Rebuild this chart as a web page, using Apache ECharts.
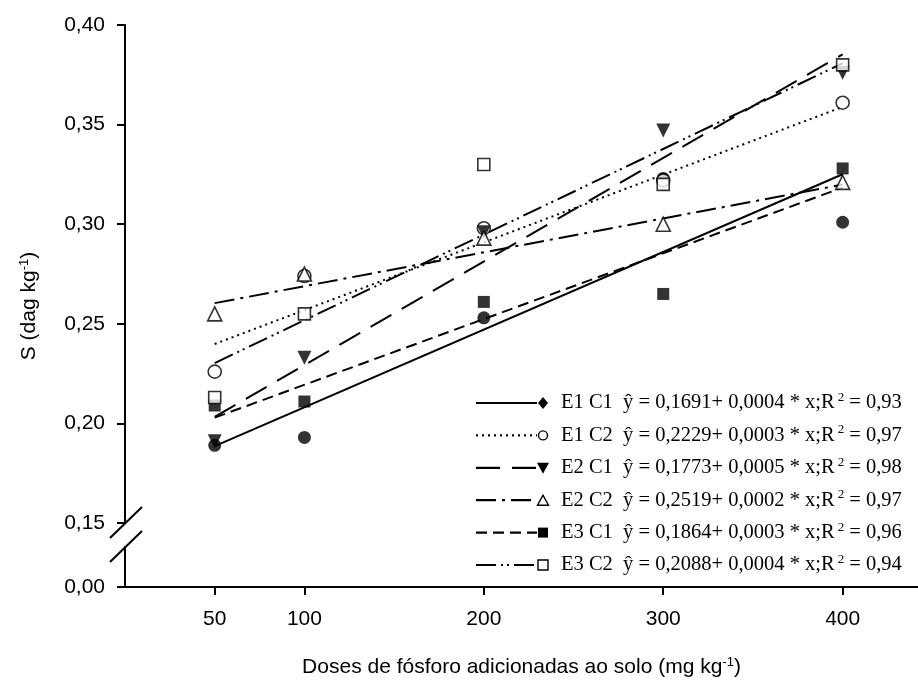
<!DOCTYPE html>
<html>
<head>
<meta charset="utf-8">
<script src="https://cdn.jsdelivr.net/npm/echarts@6/dist/echarts.min.js"></script>
<style>
  html, body { margin: 0; padding: 0; background: #ffffff; }
  #chart { width: 918px; height: 684px; }
</style>
</head>
<body>
<div id="chart"></div>
<script>
// Phosphorus doses (mg kg-1) and tick labels
const doses = [50, 100, 200, 300, 400];
const xTicks = [50, 100, 200, 300, 400];
const yTicks = [0.00, 0.15, 0.20, 0.25, 0.30, 0.35, 0.40];

// Measured S (dag kg-1) for each treatment
const seriesNames = ['E1 C1', 'E1 C2', 'E2 C1', 'E2 C2', 'E3 C1', 'E3 C2'];
const e1c1 = [0.189, 0.193, 0.253, 0.323, 0.301];
const e1c2 = [0.226, 0.274, 0.298, 0.322, 0.361];
const e2c1 = [0.191, 0.233, 0.296, 0.347, 0.376];
const e2c2 = [0.255, 0.275, 0.293, 0.300, 0.321];
const e3c1 = [0.209, 0.211, 0.261, 0.265, 0.328];
const e3c2 = [0.213, 0.255, 0.330, 0.320, 0.380];

// Fitted regression lines: value at the first and last dose
const fitDoses = [50, 400];
const fitE1C1 = [0.1886, 0.3251];
const fitE1C2 = [0.2399, 0.3589];
const fitE2C1 = [0.2033, 0.3853];
const fitE2C2 = [0.2604, 0.3199];
const fitE3C1 = [0.2029, 0.3184];
const fitE3C2 = [0.2303, 0.3808];

// Regression equations shown in the key
const intercepts = ['0,1691', '0,2229', '0,1773', '0,2519', '0,1864', '0,2088'];
const slopes = ['0,0004', '0,0003', '0,0005', '0,0002', '0,0003', '0,0004'];
const r2 = ['0,93', '0,97', '0,98', '0,97', '0,96', '0,94'];

// Broken y axis: the stretch from 0.00 to 0.15 is squeezed into a short gap
const breakLow = 0.00, breakHigh = 0.15, breakSpan = 0.0321;
function toAxis(v) {
  return v >= breakHigh ? v : breakHigh - breakSpan * (breakHigh - v) / (breakHigh - breakLow);
}
function fromAxis(a) {
  return a >= breakHigh - 1e-9 ? a : breakLow + (a - (breakHigh - breakSpan)) / breakSpan * (breakHigh - breakLow);
}
const fmt = v => v.toFixed(2).replace('.', ',');

const SANS = '"Liberation Sans", Arial, sans-serif';
const SERIF = '"Liberation Serif", "Times New Roman", serif';

const values = [e1c1, e1c2, e2c1, e2c2, e3c1, e3c2];
const fits = [fitE1C1, fitE1C2, fitE2C1, fitE2C2, fitE3C1, fitE3C2];

// Drawing style per treatment
const styles = [
  { dash: 'solid',             symbol: 'circle',   rotate: 0,   filled: true,  size: 13, keyShape: 'diamond' },
  { dash: [2, 4],              symbol: 'circle',   rotate: 0,   filled: false, size: 13, keyShape: 'circle' },
  { dash: [24, 12],            symbol: 'triangle', rotate: 180, filled: true,  size: 14, keyShape: 'down' },
  { dash: [20, 6, 3, 6],       symbol: 'triangle', rotate: 0,   filled: false, size: 14, keyShape: 'up' },
  { dash: [11, 6],             symbol: 'rect',     rotate: 0,   filled: true,  size: 12, keyShape: 'square' },
  { dash: [20, 5, 2, 4, 2, 5], symbol: 'rect',     rotate: 0,   filled: false, size: 12, keyShape: 'square' }
];

const lineSeries = fits.map((f, i) => ({
  name: seriesNames[i] + ' fit',
  type: 'line',
  data: fitDoses.map((d, k) => [d, toAxis(f[k])]),
  showSymbol: false,
  symbol: 'none',
  lineStyle: { color: '#000', width: 2, type: styles[i].dash, cap: 'butt' },
  z: 2,
  silent: true
}));

const pointSeries = values.map((vals, i) => ({
  name: seriesNames[i],
  type: 'scatter',
  data: doses.map((d, k) => [d, toAxis(vals[k])]),
  symbol: styles[i].symbol,
  symbolSize: styles[i].size,
  symbolRotate: styles[i].rotate,
  itemStyle: styles[i].filled
    ? { color: '#000', borderColor: '#000', borderWidth: 0 }
    : { color: '#fff', borderColor: '#000', borderWidth: 1.6 },
  z: 3 + i
}));

const chart = echarts.init(document.getElementById('chart'), null, { renderer: 'canvas' });

chart.setOption({
  animation: false,
  backgroundColor: '#ffffff',
  grid: { left: 125, right: 0, top: 25, bottom: 97, containLabel: false },
  xAxis: {
    type: 'value',
    min: 0,
    max: 442,
    name: 'Doses de fósforo adicionadas ao solo (mg kg{sup|-1})',
    nameLocation: 'middle',
    nameGap: 69,
    nameTextStyle: {
      color: '#000', fontFamily: SANS, fontSize: 21,
      rich: { sup: { fontSize: 13, fontFamily: SANS, color: '#000', verticalAlign: 'top', padding: [0, 0, 10, 0] } }
    },
    axisLine: { lineStyle: { color: '#000', width: 2 } },
    axisTick: { show: true, inside: false, length: 8, lineStyle: { color: '#000', width: 2 }, customValues: xTicks },
    axisLabel: { color: '#000', fontFamily: SANS, fontSize: 21, margin: 22, customValues: xTicks },
    splitLine: { show: false }
  },
  yAxis: {
    type: 'value',
    min: toAxis(yTicks[0]),
    max: yTicks[yTicks.length - 1],
    name: 'S (dag kg{sup|-1})',
    nameLocation: 'middle',
    nameRotate: 90,
    nameGap: 84,
    nameTextStyle: {
      color: '#000', fontFamily: SANS, fontSize: 21,
      rich: { sup: { fontSize: 13, fontFamily: SANS, color: '#000', verticalAlign: 'top', padding: [0, 0, 10, 0] } }
    },
    axisLine: { show: true, lineStyle: { color: '#000', width: 2 } },
    axisTick: { show: true, inside: false, length: 8, lineStyle: { color: '#000', width: 2 }, customValues: yTicks.map(toAxis) },
    axisLabel: {
      color: '#000', fontFamily: SANS, fontSize: 21, margin: 20,
      customValues: yTicks.map(toAxis),
      formatter: a => fmt(fromAxis(a))
    },
    splitLine: { show: false }
  },
  series: lineSeries.concat(pointSeries)
});

// Axis break marks and the key, placed after the axes are laid out
const xa = chart.convertToPixel({ xAxisIndex: 0 }, 0);
const yb = chart.convertToPixel({ yAxisIndex: 0 }, toAxis(breakHigh));
const breakGap = 24;

const graphics = [
  { type: 'rect', shape: { x: xa - 3, y: yb + 1, width: 6, height: breakGap - 2 }, style: { fill: '#fff' }, z: 50 },
  { type: 'line', shape: { x1: xa - 15, y1: yb + 15, x2: xa + 17, y2: yb - 16 }, style: { stroke: '#000', lineWidth: 2 }, z: 51 },
  { type: 'line', shape: { x1: xa - 15, y1: yb + breakGap + 15, x2: xa + 17, y2: yb + breakGap - 16 }, style: { stroke: '#000', lineWidth: 2 }, z: 51 }
];

const keyX0 = 476, keyX1 = 537, keyMark = 543, keyText = 561, keyTop = 403, keyStep = 32.4;

function keySymbol(kind, cx, cy) {
  if (kind === 'diamond') {
    return { type: 'polygon', shape: { points: [[cx, cy - 6], [cx + 5, cy], [cx, cy + 6], [cx - 5, cy]] }, style: { fill: '#000' }, z: 61 };
  }
  if (kind === 'circle') {
    return { type: 'circle', shape: { cx: cx, cy: cy, r: 4.5 }, style: { fill: '#fff', stroke: '#000', lineWidth: 1.4 }, z: 61 };
  }
  if (kind === 'down') {
    return { type: 'polygon', shape: { points: [[cx - 6, cy - 5], [cx + 6, cy - 5], [cx, cy + 6]] }, style: { fill: '#000' }, z: 61 };
  }
  if (kind === 'up') {
    return { type: 'polygon', shape: { points: [[cx - 5.5, cy + 5], [cx + 5.5, cy + 5], [cx, cy - 5]] }, style: { fill: '#fff', stroke: '#000', lineWidth: 1.4 }, z: 61 };
  }
  return null;
}

seriesNames.forEach((name, i) => {
  const cy = keyTop + i * keyStep;
  const st = styles[i];
  graphics.push({
    type: 'line',
    shape: { x1: keyX0, y1: cy, x2: keyX1, y2: cy },
    style: { stroke: '#000', lineWidth: 2.2, lineDash: st.dash === 'solid' ? null : st.dash },
    z: 60
  });
  let sym;
  if (st.keyShape === 'square') {
    sym = { type: 'rect', shape: { x: keyMark - 5, y: cy - 5, width: 10, height: 10 },
            style: st.filled ? { fill: '#000' } : { fill: '#fff', stroke: '#000', lineWidth: 1.4 }, z: 61 };
  } else {
    sym = keySymbol(st.keyShape, keyMark, cy);
  }
  graphics.push(sym);
  graphics.push({
    type: 'text',
    x: keyText,
    y: cy,
    style: {
      text: '{t|' + name + '  ŷ = ' + intercepts[i] + '+ ' + slopes[i] + ' * x;R}{s|2}{t| = ' + r2[i] + '}',
      verticalAlign: 'middle',
      align: 'left',
      rich: {
        t: { fontFamily: SERIF, fontSize: 20.5, color: '#000', lineHeight: 24 },
        s: { fontFamily: SERIF, fontSize: 13, color: '#000', verticalAlign: 'top', lineHeight: 24, padding: [0, 0, 8, 3] }
      }
    },
    z: 62
  });
});

chart.setOption({ graphic: graphics });
</script>
</body>
</html>
